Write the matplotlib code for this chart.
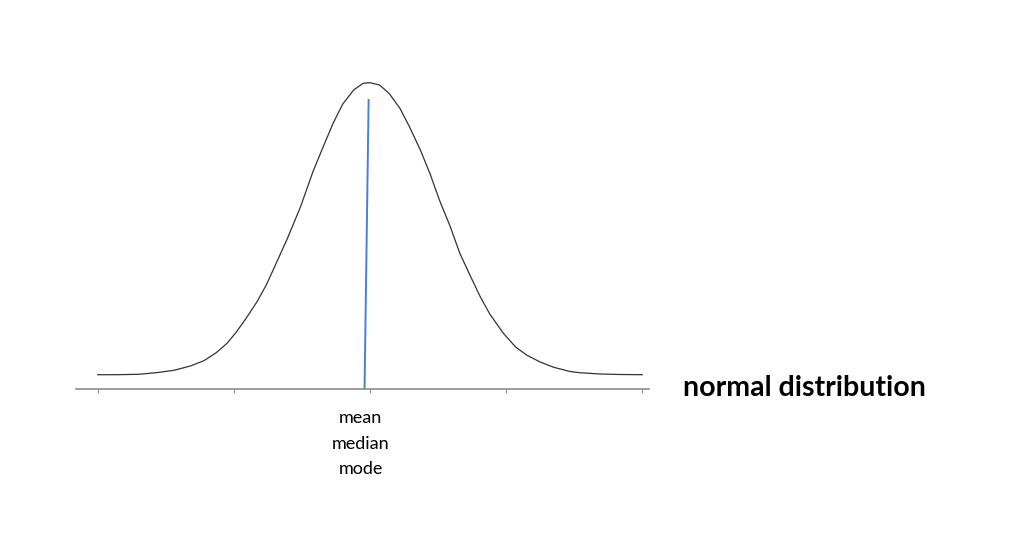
import numpy as np
import matplotlib.pyplot as plt

# curve (x in tick units, y = height above baseline)
curve_x = [0.00, 0.14, 0.30, 0.43, 0.56, 0.68, 0.78, 0.87, 0.95, 1.02, 1.09, 1.17,
           1.24, 1.29, 1.39, 1.49, 1.58, 1.66, 1.73, 1.80, 1.88, 1.95, 2.00, 2.07,
           2.14, 2.22, 2.29, 2.37, 2.44, 2.51, 2.59, 2.66, 2.74, 2.81, 2.88, 2.98,
           3.07, 3.15, 3.25, 3.35, 3.47, 3.54, 3.69, 3.84, 4.00]
curve_y = [14.3, 14.3, 14.7, 16.3, 18.7, 23.0, 28.3, 36.3, 45.7, 57.3, 70.7, 87.3,
           104.5, 119.5, 149.5, 182.3, 217.0, 243.5, 266.0, 285.0, 299.0, 305.7, 306.3, 304.0,
           295.7, 280.7, 262.3, 239.0, 215.7, 189.0, 162.3, 135.7, 112.3, 92.3, 75.0, 55.7,
           42.0, 34.0, 27.0, 21.7, 17.5, 16.3, 15.0, 14.5, 14.3]
center_x = [1.96, 1.99]
center_y = [0.0, 289.0]
ticks = [0, 1, 2, 3, 4]
center_label = "mean\nmedian\nmode"
title = "normal distribution"

fig = plt.figure(figsize=(10.24, 5.42), dpi=100)
ax = fig.add_axes([76 / 1024, (542 - 389) / 542, (649 - 76) / 1024, 329 / 542])
ax.plot(curve_x, curve_y, color='#333333', lw=0.9, solid_joinstyle='round')
ax.plot(center_x, center_y, color='#4a7fd6', lw=1.4)
ax.set_xlim(-0.16, 4.05)
ax.set_ylim(0, 329)
for s in ['top', 'right', 'left']:
    ax.spines[s].set_visible(False)
ax.spines['bottom'].set_color('#8c8c8c')
ax.spines['bottom'].set_linewidth(1.2)
ax.set_yticks([])
ax.set_xticks(ticks)
ax.set_xticklabels([])
ax.tick_params(axis='x', length=3, color='#8c8c8c', width=0.8)
ax.text(1.93, -21, center_label, ha='center', va='top', fontsize=13,
        family='Lato', linespacing=1.75)
fig.text(683 / 1024, (542 - 388) / 542, title, ha='left', va='center',
         fontsize=20.5, family='Lato', fontweight='bold')
fig.savefig('out.png')
